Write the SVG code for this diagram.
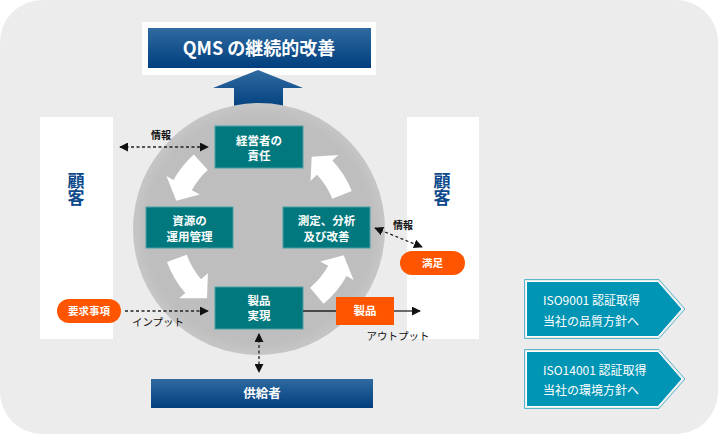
<svg xmlns="http://www.w3.org/2000/svg" width="718" height="434" viewBox="0 0 718 434">
<defs>
<linearGradient id="blueG" x1="0" y1="0" x2="0" y2="1">
<stop offset="0" stop-color="#2f6ba0"/>
<stop offset="1" stop-color="#003e7e"/>
</linearGradient>
<radialGradient id="circG" cx="0.5" cy="0.5" r="0.5">
<stop offset="0.9" stop-color="#bebebe"/>
<stop offset="1" stop-color="#c6c6c6"/>
</radialGradient>
<marker id="ah" viewBox="0 0 10 10" refX="9" refY="5" markerWidth="9" markerHeight="9" markerUnits="userSpaceOnUse" orient="auto-start-reverse">
<path d="M0,0 L10,5 L0,10 Z" fill="#111"/>
</marker>
<style>
.teal{fill:#00787e;stroke:#4a9fa3;stroke-width:1}
.wt{font-family:"Noto Sans CJK JP","Noto Sans",sans-serif;font-weight:bold;fill:#fff;text-anchor:middle}
.bk{font-family:"Noto Sans CJK JP","Noto Sans",sans-serif;fill:#111;text-anchor:middle}
.org{fill:#ff5500}
.dash{fill:none;stroke:#222;stroke-width:1.3;stroke-dasharray:3 2.5}
.solid{fill:none;stroke:#222;stroke-width:1.3}
.cust{fill:#0c4a8c;font-family:"Noto Sans CJK JP",sans-serif;font-weight:bold;font-size:17px;text-anchor:middle;writing-mode:vertical-rl}
.iso{fill:#0095b4;stroke:#ffffff;stroke-width:1}
.isoOut{fill:none;stroke:#5ab6cc;stroke-width:1}
.isot{font-family:"Noto Sans CJK JP","Noto Sans",sans-serif;fill:#fff;font-size:12px}
.warrow{fill:#ffffff}
</style>
</defs>
<rect x="0" y="0" width="718" height="434" rx="42" ry="42" fill="#ececec"/>

<g id="customer-left">
<rect x="40" y="117" width="73" height="222" fill="#ffffff"/>
<text class="cust" x="76" y="189">顧客</text>
</g>
<g id="customer-right">
<rect x="407" y="117" width="72" height="222" fill="#ffffff"/>
<text class="cust" x="442" y="189">顧客</text>
</g>

<g id="title">
<rect x="142" y="22" width="234" height="53" fill="#ffffff"/>
<rect x="148" y="28" width="223" height="40" fill="url(#blueG)"/>
<text class="wt" x="259" y="54.5" font-size="18">QMS の継続的改善</text>
</g>

<g id="up-arrow">
<path d="M258,70 L303,88 L283,88 L283,110 L234,110 L234,88 L213,88 Z" fill="url(#blueG)"/>
</g>

<g id="cycle">
<circle cx="259" cy="229" r="126" fill="url(#circG)"/>
<g id="cycle-arrows">
<path class="warrow" d="M193.8,154.4 A99,99 0 0 0 173.4,180.0 L166.4,176.1 L176.3,200.8 L199.7,194.5 L191.8,190.2 A78,78 0 0 1 207.8,170.0 Z"/>
<path class="warrow" d="M351.8,190.9 A99,99 0 0 0 332.4,160.5 L338.3,155.0 L311.7,156.8 L310.5,180.9 L317.0,174.8 A78,78 0 0 1 332.3,198.8 Z"/>
<path class="warrow" d="M167.0,261.9 A99,99 0 0 0 185.3,293.0 L179.2,298.2 L207.0,298.3 L207.9,273.3 L201.1,279.2 A78,78 0 0 1 186.7,254.7 Z"/>
<path class="warrow" d="M323.6,303.8 A99,99 0 0 0 346.6,276.0 L353.6,279.9 L343.7,255.2 L320.3,261.5 L328.2,265.8 A78,78 0 0 1 310.1,287.7 Z"/>
</g>
</g>

<g id="management">
<rect class="teal" x="215" y="126" width="88" height="42"/>
<text class="wt" x="259" y="145" font-size="11.5">経営者の</text>
<text class="wt" x="259" y="160" font-size="11.5">責任</text>
</g>
<g id="resources">
<rect class="teal" x="146" y="207" width="87" height="41"/>
<text class="wt" x="189.5" y="225" font-size="11.5">資源の</text>
<text class="wt" x="189.5" y="241" font-size="11.5">運用管理</text>
</g>
<g id="measurement">
<rect class="teal" x="283" y="207" width="87" height="41"/>
<text class="wt" x="326.5" y="225" font-size="11.5">測定、分析</text>
<text class="wt" x="326.5" y="241" font-size="11.5">及び改善</text>
</g>
<g id="realization">
<rect class="teal" x="215" y="287" width="88" height="42"/>
<text class="wt" x="259" y="305" font-size="11.5">製品</text>
<text class="wt" x="259" y="320" font-size="11.5">実現</text>
</g>

<g id="requirements">
<rect class="org" x="57" y="299" width="64" height="24" rx="12"/>
<text class="wt" x="89" y="315" font-size="10.5">要求事項</text>
</g>
<g id="satisfaction">
<rect class="org" x="400" y="251" width="65" height="24" rx="12"/>
<text class="wt" x="432.5" y="267" font-size="10.5">満足</text>
</g>
<g id="product">
<rect class="org" x="336" y="297" width="58" height="28"/>
<text class="wt" x="365" y="315" font-size="11.5">製品</text>
</g>
<g id="supplier">
<rect x="151" y="379" width="222" height="29" fill="url(#blueG)"/>
<text class="wt" x="262" y="398" font-size="12.5">供給者</text>
</g>

<g id="connectors">
<line class="dash" x1="120" y1="147" x2="208" y2="147" marker-start="url(#ah)" marker-end="url(#ah)"/>
<line class="dash" x1="375" y1="228" x2="422" y2="247" marker-start="url(#ah)" marker-end="url(#ah)"/>
<line class="dash" x1="125" y1="311" x2="208" y2="311" marker-end="url(#ah)"/>
<line class="solid" x1="303" y1="311" x2="336" y2="311"/>
<line class="solid" x1="394" y1="311" x2="420" y2="311" marker-end="url(#ah)"/>
<line class="dash" x1="259" y1="334" x2="259" y2="372" marker-start="url(#ah)" marker-end="url(#ah)"/>
<text class="bk" x="161" y="139" font-size="10" font-weight="bold">情報</text>
<text class="bk" x="403" y="229" font-size="10" font-weight="bold">情報</text>
<text class="bk" x="158" y="326" font-size="10.5">インプット</text>
<text class="bk" x="398" y="340" font-size="10.5">アウトプット</text>
</g>

<g id="iso9001">
<path class="isoOut" d="M524.5,279.5 L659,279.5 L685,309 L659,338.5 L524.5,338.5 Z"/>
<path class="iso" d="M526.5,281.5 L658,281.5 L682,309 L658,336.5 L526.5,336.5 Z"/>
<text class="isot" x="543" y="304.5" font-size="12.5">ISO9001 認証取得</text>
<text class="isot" x="543" y="326">当社の品質方針へ</text>
</g>
<g id="iso14001">
<path class="isoOut" d="M524.5,349.5 L659,349.5 L685,379 L659,408.5 L524.5,408.5 Z"/>
<path class="iso" d="M526.5,351.5 L658,351.5 L682,379 L658,406.5 L526.5,406.5 Z"/>
<text class="isot" x="543" y="374.5" font-size="12.5">ISO14001 認証取得</text>
<text class="isot" x="543" y="395">当社の環境方針へ</text>
</g>
</svg>
